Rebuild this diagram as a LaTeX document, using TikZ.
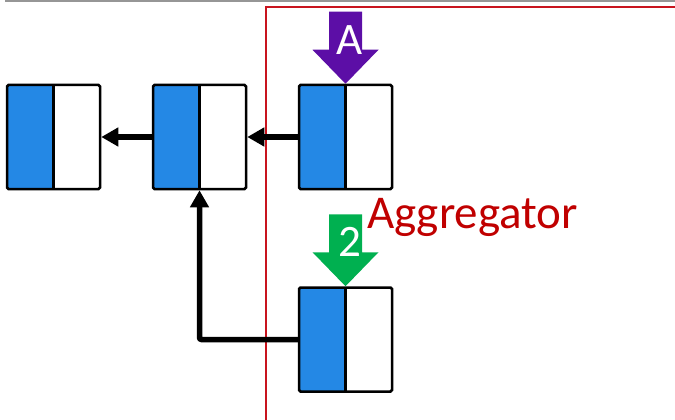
\documentclass[tikz,border=0pt]{standalone}
\usepackage{fontspec}
\setmainfont{Carlito}
\usetikzlibrary{arrows.meta,calc}
\definecolor{cellblue}{RGB}{36,136,229}
\definecolor{markpurple}{RGB}{92,14,166}
\definecolor{markgreen}{RGB}{0,176,80}
\definecolor{aggred}{RGB}{192,0,0}
\definecolor{framered}{RGB}{200,20,30}
\definecolor{rulegray}{RGB}{150,150,150}

% block arrow pointing down onto a node anchor, with a white label
\newcommand{\downblock}[4]{%
  \fill[#2, shift={(#1)}] (-16.5,-72) -- (16.5,-72) -- (16.5,-34) -- (33,-34)
    -- (0,0) -- (-33,-34) -- (-16.5,-34) -- cycle;
  \node[marklabel] (#4) at ($(#1)+(4,-44)$) {#3};
}

\begin{document}
\begin{tikzpicture}[x=1pt, y=-1pt,
  cell/.style={draw=black, line width=2.5pt, rounded corners=1.5pt,
    minimum width=93pt, minimum height=104pt, inner sep=0pt,
    path picture={
      \fill[cellblue] (path picture bounding box.north west) rectangle (path picture bounding box.south);
      \draw[line width=2.5pt] (path picture bounding box.north) -- (path picture bounding box.south);
    }},
  link/.style={draw=black, line width=5.5pt, rounded corners=2pt,
    -{Triangle[length=17pt, width=18pt]}},
  marklabel/.style={text=white, inner sep=0pt, font=\fontsize{45}{45}\selectfont}
]
\useasboundingbox (0,0) rectangle (675,420);

% top rule and aggregator frame
\draw[draw=rulegray, line width=1.5pt] (5,0.8) -- (675,0.8);
\draw[draw=framered, line width=2pt] (265.5,420) -- (265.5,7.5) -- (675,7.5);

% cells
\node[cell] (c1) at (53.5,137) {};
\node[cell] (c2) at (199.5,137) {};
\node[cell] (c3) at (345.5,137) {};
\node[cell] (c4) at (345.5,339.5) {};

% links
\draw[link] (c3.west) -- (c2.east);
\draw[link] (c2.west) -- (c1.east);
\draw[link] (c4.west) -| (c2.south);

% markers
\downblock{c3.north}{markpurple}{A}{markA}
\downblock{c4.north}{markgreen}{2}{mark2}

\node[text=aggred, anchor=base west, inner sep=0pt, font=\fontsize{47}{47}\selectfont] (agg) at (367,228) {Aggregator};
\end{tikzpicture}
\end{document}
